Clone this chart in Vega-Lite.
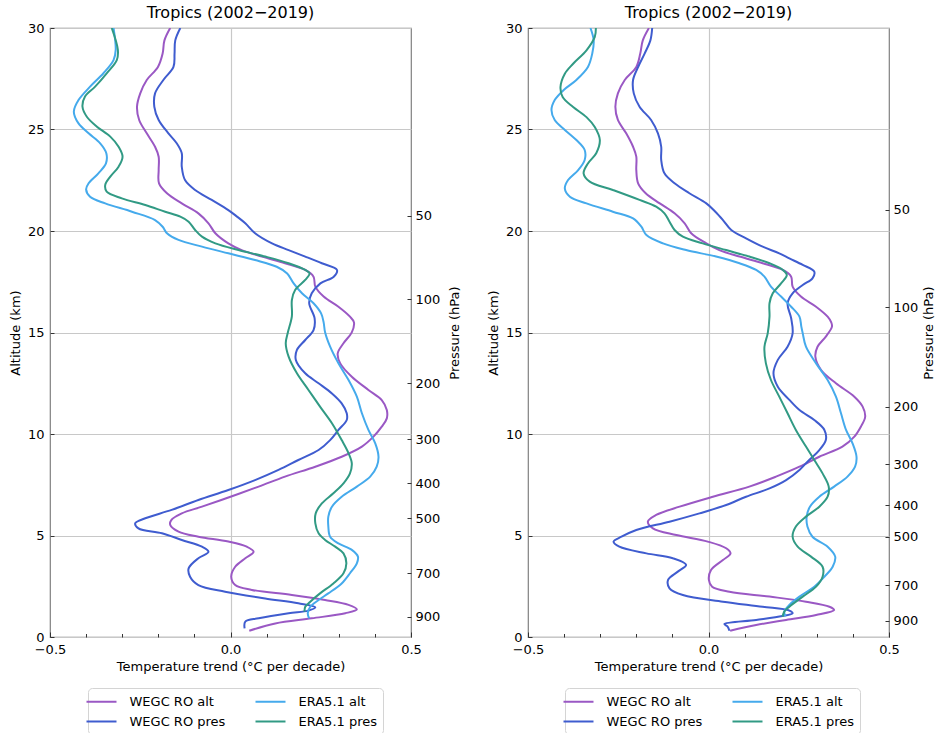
{
  "$schema": "https://vega.github.io/schema/vega-lite/v6.json",
  "background": "white",
  "padding": {"left": 8, "top": 4, "right": 5, "bottom": 5},
  "config": {
    "font": "DejaVu Sans",
    "view": {"stroke": "#808080", "strokeWidth": 1.2},
    "title": {"font": "DejaVu Sans", "fontSize": 16, "fontWeight": "normal", "color": "#000000", "offset": 1},
    "axis": {
      "labelFont": "DejaVu Sans", "labelFontSize": 13, "labelColor": "#000000",
      "titleFont": "DejaVu Sans", "titleFontSize": 13, "titleFontWeight": "normal", "titleColor": "#000000",
      "domain": false, "tickColor": "#333333", "tickWidth": 1,
      "gridColor": "#c8c8c8", "gridWidth": 1.2
    },
    "legend": {"labelFont": "DejaVu Sans", "labelFontSize": 13, "labelColor": "#000000"}
  },
  "datasets": {
    "left": [
      {"series": "WEGC RO alt", "altitude": 30.0, "trend": -0.167},
      {"series": "WEGC RO alt", "altitude": 29.39, "trend": -0.183},
      {"series": "WEGC RO alt", "altitude": 28.74, "trend": -0.188},
      {"series": "WEGC RO alt", "altitude": 28.08, "trend": -0.201},
      {"series": "WEGC RO alt", "altitude": 27.44, "trend": -0.232},
      {"series": "WEGC RO alt", "altitude": 26.78, "trend": -0.250},
      {"series": "WEGC RO alt", "altitude": 26.12, "trend": -0.259},
      {"series": "WEGC RO alt", "altitude": 25.47, "trend": -0.253},
      {"series": "WEGC RO alt", "altitude": 24.81, "trend": -0.232},
      {"series": "WEGC RO alt", "altitude": 24.15, "trend": -0.209},
      {"series": "WEGC RO alt", "altitude": 23.66, "trend": -0.199},
      {"series": "WEGC RO alt", "altitude": 23.00, "trend": -0.199},
      {"series": "WEGC RO alt", "altitude": 22.35, "trend": -0.198},
      {"series": "WEGC RO alt", "altitude": 21.86, "trend": -0.176},
      {"series": "WEGC RO alt", "altitude": 21.36, "trend": -0.135},
      {"series": "WEGC RO alt", "altitude": 20.87, "trend": -0.089},
      {"series": "WEGC RO alt", "altitude": 20.38, "trend": -0.061},
      {"series": "WEGC RO alt", "altitude": 19.89, "trend": -0.042},
      {"series": "WEGC RO alt", "altitude": 19.39, "trend": -0.006},
      {"series": "WEGC RO alt", "altitude": 19.06, "trend": 0.031},
      {"series": "WEGC RO alt", "altitude": 18.74, "trend": 0.087},
      {"series": "WEGC RO alt", "altitude": 18.41, "trend": 0.151},
      {"series": "WEGC RO alt", "altitude": 18.08, "trend": 0.207},
      {"series": "WEGC RO alt", "altitude": 17.75, "trend": 0.230},
      {"series": "WEGC RO alt", "altitude": 17.26, "trend": 0.235},
      {"series": "WEGC RO alt", "altitude": 16.77, "trend": 0.258},
      {"series": "WEGC RO alt", "altitude": 16.27, "trend": 0.299},
      {"series": "WEGC RO alt", "altitude": 15.78, "trend": 0.331},
      {"series": "WEGC RO alt", "altitude": 15.5, "trend": 0.342},
      {"series": "WEGC RO alt", "altitude": 15.01, "trend": 0.336},
      {"series": "WEGC RO alt", "altitude": 14.47, "trend": 0.313},
      {"series": "WEGC RO alt", "altitude": 13.97, "trend": 0.297},
      {"series": "WEGC RO alt", "altitude": 13.48, "trend": 0.304},
      {"series": "WEGC RO alt", "altitude": 12.82, "trend": 0.336},
      {"series": "WEGC RO alt", "altitude": 12.17, "trend": 0.382},
      {"series": "WEGC RO alt", "altitude": 11.67, "trend": 0.419},
      {"series": "WEGC RO alt", "altitude": 11.18, "trend": 0.433},
      {"series": "WEGC RO alt", "altitude": 10.77, "trend": 0.433},
      {"series": "WEGC RO alt", "altitude": 10.36, "trend": 0.419},
      {"series": "WEGC RO alt", "altitude": 9.87, "trend": 0.396},
      {"series": "WEGC RO alt", "altitude": 9.38, "trend": 0.364},
      {"series": "WEGC RO alt", "altitude": 8.88, "trend": 0.308},
      {"series": "WEGC RO alt", "altitude": 8.39, "trend": 0.235},
      {"series": "WEGC RO alt", "altitude": 7.90, "trend": 0.151},
      {"series": "WEGC RO alt", "altitude": 7.41, "trend": 0.078},
      {"series": "WEGC RO alt", "altitude": 6.91, "trend": 0.000},
      {"series": "WEGC RO alt", "altitude": 6.42, "trend": -0.079},
      {"series": "WEGC RO alt", "altitude": 6.09, "trend": -0.135},
      {"series": "WEGC RO alt", "altitude": 5.76, "trend": -0.164},
      {"series": "WEGC RO alt", "altitude": 5.52, "trend": -0.167},
      {"series": "WEGC RO alt", "altitude": 5.19, "trend": -0.144},
      {"series": "WEGC RO alt", "altitude": 4.94, "trend": -0.089},
      {"series": "WEGC RO alt", "altitude": 4.70, "trend": -0.006},
      {"series": "WEGC RO alt", "altitude": 4.45, "trend": 0.045},
      {"series": "WEGC RO alt", "altitude": 4.20, "trend": 0.064},
      {"series": "WEGC RO alt", "altitude": 3.88, "trend": 0.041},
      {"series": "WEGC RO alt", "altitude": 3.46, "trend": 0.013},
      {"series": "WEGC RO alt", "altitude": 2.97, "trend": 0.002},
      {"series": "WEGC RO alt", "altitude": 2.56, "trend": 0.013},
      {"series": "WEGC RO alt", "altitude": 2.32, "trend": 0.059},
      {"series": "WEGC RO alt", "altitude": 2.07, "trend": 0.170},
      {"series": "WEGC RO alt", "altitude": 1.82, "trend": 0.262},
      {"series": "WEGC RO alt", "altitude": 1.58, "trend": 0.327},
      {"series": "WEGC RO alt", "altitude": 1.36, "trend": 0.350},
      {"series": "WEGC RO alt", "altitude": 1.17, "trend": 0.318},
      {"series": "WEGC RO alt", "altitude": 0.92, "trend": 0.225},
      {"series": "WEGC RO alt", "altitude": 0.67, "trend": 0.124},
      {"series": "WEGC RO alt", "altitude": 0.31, "trend": 0.052},

      {"series": "WEGC RO pres", "altitude": 30.0, "trend": -0.139},
      {"series": "WEGC RO pres", "altitude": 29.39, "trend": -0.153},
      {"series": "WEGC RO pres", "altitude": 28.74, "trend": -0.155},
      {"series": "WEGC RO pres", "altitude": 28.08, "trend": -0.158},
      {"series": "WEGC RO pres", "altitude": 27.44, "trend": -0.186},
      {"series": "WEGC RO pres", "altitude": 26.78, "trend": -0.209},
      {"series": "WEGC RO pres", "altitude": 26.12, "trend": -0.211},
      {"series": "WEGC RO pres", "altitude": 25.47, "trend": -0.199},
      {"series": "WEGC RO pres", "altitude": 24.81, "trend": -0.172},
      {"series": "WEGC RO pres", "altitude": 24.32, "trend": -0.149},
      {"series": "WEGC RO pres", "altitude": 23.83, "trend": -0.135},
      {"series": "WEGC RO pres", "altitude": 23.17, "trend": -0.135},
      {"series": "WEGC RO pres", "altitude": 22.51, "trend": -0.126},
      {"series": "WEGC RO pres", "altitude": 22.02, "trend": -0.098},
      {"series": "WEGC RO pres", "altitude": 21.53, "trend": -0.052},
      {"series": "WEGC RO pres", "altitude": 21.03, "trend": -0.006},
      {"series": "WEGC RO pres", "altitude": 20.71, "trend": 0.018},
      {"series": "WEGC RO pres", "altitude": 20.38, "trend": 0.041},
      {"series": "WEGC RO pres", "altitude": 19.89, "trend": 0.068},
      {"series": "WEGC RO pres", "altitude": 19.39, "trend": 0.115},
      {"series": "WEGC RO pres", "altitude": 19.06, "trend": 0.161},
      {"series": "WEGC RO pres", "altitude": 18.74, "trend": 0.207},
      {"series": "WEGC RO pres", "altitude": 18.41, "trend": 0.253},
      {"series": "WEGC RO pres", "altitude": 18.08, "trend": 0.295},
      {"series": "WEGC RO pres", "altitude": 17.75, "trend": 0.286},
      {"series": "WEGC RO pres", "altitude": 17.42, "trend": 0.249},
      {"series": "WEGC RO pres", "altitude": 16.93, "trend": 0.225},
      {"series": "WEGC RO pres", "altitude": 16.44, "trend": 0.218},
      {"series": "WEGC RO pres", "altitude": 15.7, "trend": 0.233},
      {"series": "WEGC RO pres", "altitude": 15.12, "trend": 0.230},
      {"series": "WEGC RO pres", "altitude": 14.63, "trend": 0.207},
      {"series": "WEGC RO pres", "altitude": 14.14, "trend": 0.184},
      {"series": "WEGC RO pres", "altitude": 13.65, "trend": 0.181},
      {"series": "WEGC RO pres", "altitude": 12.99, "trend": 0.207},
      {"series": "WEGC RO pres", "altitude": 12.50, "trend": 0.244},
      {"series": "WEGC RO pres", "altitude": 12.00, "trend": 0.281},
      {"series": "WEGC RO pres", "altitude": 11.51, "trend": 0.308},
      {"series": "WEGC RO pres", "altitude": 11.02, "trend": 0.322},
      {"series": "WEGC RO pres", "altitude": 10.69, "trend": 0.322},
      {"series": "WEGC RO pres", "altitude": 10.20, "trend": 0.299},
      {"series": "WEGC RO pres", "altitude": 9.70, "trend": 0.276},
      {"series": "WEGC RO pres", "altitude": 9.21, "trend": 0.244},
      {"series": "WEGC RO pres", "altitude": 8.72, "trend": 0.188},
      {"series": "WEGC RO pres", "altitude": 8.23, "trend": 0.133},
      {"series": "WEGC RO pres", "altitude": 7.73, "trend": 0.068},
      {"series": "WEGC RO pres", "altitude": 7.24, "trend": -0.006},
      {"series": "WEGC RO pres", "altitude": 6.75, "trend": -0.089},
      {"series": "WEGC RO pres", "altitude": 6.26, "trend": -0.163},
      {"series": "WEGC RO pres", "altitude": 5.85, "trend": -0.236},
      {"series": "WEGC RO pres", "altitude": 5.60, "trend": -0.264},
      {"series": "WEGC RO pres", "altitude": 5.35, "trend": -0.255},
      {"series": "WEGC RO pres", "altitude": 5.11, "trend": -0.190},
      {"series": "WEGC RO pres", "altitude": 4.78, "trend": -0.135},
      {"series": "WEGC RO pres", "altitude": 4.45, "trend": -0.079},
      {"series": "WEGC RO pres", "altitude": 4.20, "trend": -0.061},
      {"series": "WEGC RO pres", "altitude": 3.88, "trend": -0.089},
      {"series": "WEGC RO pres", "altitude": 3.38, "trend": -0.116},
      {"series": "WEGC RO pres", "altitude": 2.97, "trend": -0.112},
      {"series": "WEGC RO pres", "altitude": 2.56, "trend": -0.089},
      {"series": "WEGC RO pres", "altitude": 2.23, "trend": -0.015},
      {"series": "WEGC RO pres", "altitude": 1.90, "trend": 0.096},
      {"series": "WEGC RO pres", "altitude": 1.66, "trend": 0.188},
      {"series": "WEGC RO pres", "altitude": 1.46, "trend": 0.235},
      {"series": "WEGC RO pres", "altitude": 1.30, "trend": 0.216},
      {"series": "WEGC RO pres", "altitude": 1.17, "trend": 0.161},
      {"series": "WEGC RO pres", "altitude": 0.92, "trend": 0.078},
      {"series": "WEGC RO pres", "altitude": 0.76, "trend": 0.041},
      {"series": "WEGC RO pres", "altitude": 0.43, "trend": 0.039},

      {"series": "ERA5.1 alt", "altitude": 30.0, "trend": -0.324},
      {"series": "ERA5.1 alt", "altitude": 28.92, "trend": -0.318},
      {"series": "ERA5.1 alt", "altitude": 28.42, "trend": -0.324},
      {"series": "ERA5.1 alt", "altitude": 27.77, "trend": -0.352},
      {"series": "ERA5.1 alt", "altitude": 27.11, "trend": -0.389},
      {"series": "ERA5.1 alt", "altitude": 26.45, "trend": -0.421},
      {"series": "ERA5.1 alt", "altitude": 25.88, "trend": -0.434},
      {"series": "ERA5.1 alt", "altitude": 25.30, "trend": -0.421},
      {"series": "ERA5.1 alt", "altitude": 24.81, "trend": -0.393},
      {"series": "ERA5.1 alt", "altitude": 24.32, "trend": -0.361},
      {"series": "ERA5.1 alt", "altitude": 23.83, "trend": -0.344},
      {"series": "ERA5.1 alt", "altitude": 23.33, "trend": -0.345},
      {"series": "ERA5.1 alt", "altitude": 22.84, "trend": -0.366},
      {"series": "ERA5.1 alt", "altitude": 22.35, "trend": -0.393},
      {"series": "ERA5.1 alt", "altitude": 22.05, "trend": -0.400},
      {"series": "ERA5.1 alt", "altitude": 21.69, "trend": -0.389},
      {"series": "ERA5.1 alt", "altitude": 21.36, "trend": -0.347},
      {"series": "ERA5.1 alt", "altitude": 20.95, "trend": -0.273},
      {"series": "ERA5.1 alt", "altitude": 20.54, "trend": -0.209},
      {"series": "ERA5.1 alt", "altitude": 20.21, "trend": -0.188},
      {"series": "ERA5.1 alt", "altitude": 19.89, "trend": -0.176},
      {"series": "ERA5.1 alt", "altitude": 19.56, "trend": -0.144},
      {"series": "ERA5.1 alt", "altitude": 19.23, "trend": -0.079},
      {"series": "ERA5.1 alt", "altitude": 18.90, "trend": -0.006},
      {"series": "ERA5.1 alt", "altitude": 18.57, "trend": 0.068},
      {"series": "ERA5.1 alt", "altitude": 18.24, "trend": 0.128},
      {"series": "ERA5.1 alt", "altitude": 17.91, "trend": 0.157},
      {"series": "ERA5.1 alt", "altitude": 17.42, "trend": 0.175},
      {"series": "ERA5.1 alt", "altitude": 16.93, "trend": 0.198},
      {"series": "ERA5.1 alt", "altitude": 16.44, "trend": 0.230},
      {"series": "ERA5.1 alt", "altitude": 15.94, "trend": 0.251},
      {"series": "ERA5.1 alt", "altitude": 15.5, "trend": 0.258},
      {"series": "ERA5.1 alt", "altitude": 15.01, "trend": 0.262},
      {"series": "ERA5.1 alt", "altitude": 14.30, "trend": 0.276},
      {"series": "ERA5.1 alt", "altitude": 13.48, "trend": 0.299},
      {"series": "ERA5.1 alt", "altitude": 12.66, "trend": 0.327},
      {"series": "ERA5.1 alt", "altitude": 11.84, "trend": 0.350},
      {"series": "ERA5.1 alt", "altitude": 11.02, "trend": 0.364},
      {"series": "ERA5.1 alt", "altitude": 10.20, "trend": 0.382},
      {"series": "ERA5.1 alt", "altitude": 9.54, "trend": 0.401},
      {"series": "ERA5.1 alt", "altitude": 8.88, "trend": 0.410},
      {"series": "ERA5.1 alt", "altitude": 8.39, "trend": 0.405},
      {"series": "ERA5.1 alt", "altitude": 7.90, "trend": 0.387},
      {"series": "ERA5.1 alt", "altitude": 7.41, "trend": 0.350},
      {"series": "ERA5.1 alt", "altitude": 6.91, "trend": 0.308},
      {"series": "ERA5.1 alt", "altitude": 6.42, "trend": 0.281},
      {"series": "ERA5.1 alt", "altitude": 5.93, "trend": 0.271},
      {"series": "ERA5.1 alt", "altitude": 5.44, "trend": 0.271},
      {"series": "ERA5.1 alt", "altitude": 4.94, "trend": 0.276},
      {"series": "ERA5.1 alt", "altitude": 4.61, "trend": 0.299},
      {"series": "ERA5.1 alt", "altitude": 4.29, "trend": 0.336},
      {"series": "ERA5.1 alt", "altitude": 3.96, "trend": 0.353},
      {"series": "ERA5.1 alt", "altitude": 3.63, "trend": 0.350},
      {"series": "ERA5.1 alt", "altitude": 3.14, "trend": 0.331},
      {"series": "ERA5.1 alt", "altitude": 2.64, "trend": 0.308},
      {"series": "ERA5.1 alt", "altitude": 2.15, "trend": 0.271},
      {"series": "ERA5.1 alt", "altitude": 1.82, "trend": 0.244},
      {"series": "ERA5.1 alt", "altitude": 1.49, "trend": 0.221},
      {"series": "ERA5.1 alt", "altitude": 1.17, "trend": 0.214},
      {"series": "ERA5.1 alt", "altitude": 0.92, "trend": 0.218},

      {"series": "ERA5.1 pres", "altitude": 30.0, "trend": -0.329},
      {"series": "ERA5.1 pres", "altitude": 28.92, "trend": -0.312},
      {"series": "ERA5.1 pres", "altitude": 28.42, "trend": -0.315},
      {"series": "ERA5.1 pres", "altitude": 27.77, "trend": -0.343},
      {"series": "ERA5.1 pres", "altitude": 27.11, "trend": -0.375},
      {"series": "ERA5.1 pres", "altitude": 26.62, "trend": -0.403},
      {"series": "ERA5.1 pres", "altitude": 26.12, "trend": -0.410},
      {"series": "ERA5.1 pres", "altitude": 25.63, "trend": -0.398},
      {"series": "ERA5.1 pres", "altitude": 25.14, "trend": -0.370},
      {"series": "ERA5.1 pres", "altitude": 24.65, "trend": -0.333},
      {"series": "ERA5.1 pres", "altitude": 24.15, "trend": -0.310},
      {"series": "ERA5.1 pres", "altitude": 23.66, "trend": -0.299},
      {"series": "ERA5.1 pres", "altitude": 23.17, "trend": -0.310},
      {"series": "ERA5.1 pres", "altitude": 22.68, "trend": -0.333},
      {"series": "ERA5.1 pres", "altitude": 22.27, "trend": -0.347},
      {"series": "ERA5.1 pres", "altitude": 21.94, "trend": -0.343},
      {"series": "ERA5.1 pres", "altitude": 21.61, "trend": -0.301},
      {"series": "ERA5.1 pres", "altitude": 21.28, "trend": -0.236},
      {"series": "ERA5.1 pres", "altitude": 20.95, "trend": -0.181},
      {"series": "ERA5.1 pres", "altitude": 20.71, "trend": -0.139},
      {"series": "ERA5.1 pres", "altitude": 20.46, "trend": -0.116},
      {"series": "ERA5.1 pres", "altitude": 20.05, "trend": -0.098},
      {"series": "ERA5.1 pres", "altitude": 19.72, "trend": -0.079},
      {"series": "ERA5.1 pres", "altitude": 19.39, "trend": -0.042},
      {"series": "ERA5.1 pres", "altitude": 19.06, "trend": 0.022},
      {"series": "ERA5.1 pres", "altitude": 18.74, "trend": 0.096},
      {"series": "ERA5.1 pres", "altitude": 18.41, "trend": 0.161},
      {"series": "ERA5.1 pres", "altitude": 18.08, "trend": 0.207},
      {"series": "ERA5.1 pres", "altitude": 17.91, "trend": 0.219},
      {"series": "ERA5.1 pres", "altitude": 17.59, "trend": 0.207},
      {"series": "ERA5.1 pres", "altitude": 17.09, "trend": 0.179},
      {"series": "ERA5.1 pres", "altitude": 16.60, "trend": 0.170},
      {"series": "ERA5.1 pres", "altitude": 15.8, "trend": 0.170},
      {"series": "ERA5.1 pres", "altitude": 15.01, "trend": 0.159},
      {"series": "ERA5.1 pres", "altitude": 14.47, "trend": 0.153},
      {"series": "ERA5.1 pres", "altitude": 13.81, "trend": 0.161},
      {"series": "ERA5.1 pres", "altitude": 12.99, "trend": 0.184},
      {"series": "ERA5.1 pres", "altitude": 12.17, "trend": 0.216},
      {"series": "ERA5.1 pres", "altitude": 11.35, "trend": 0.248},
      {"series": "ERA5.1 pres", "altitude": 10.53, "trend": 0.281},
      {"series": "ERA5.1 pres", "altitude": 9.70, "trend": 0.308},
      {"series": "ERA5.1 pres", "altitude": 9.05, "trend": 0.327},
      {"series": "ERA5.1 pres", "altitude": 8.55, "trend": 0.336},
      {"series": "ERA5.1 pres", "altitude": 8.06, "trend": 0.331},
      {"series": "ERA5.1 pres", "altitude": 7.57, "trend": 0.313},
      {"series": "ERA5.1 pres", "altitude": 7.08, "trend": 0.285},
      {"series": "ERA5.1 pres", "altitude": 6.58, "trend": 0.253},
      {"series": "ERA5.1 pres", "altitude": 6.09, "trend": 0.236},
      {"series": "ERA5.1 pres", "altitude": 5.60, "trend": 0.235},
      {"series": "ERA5.1 pres", "altitude": 5.11, "trend": 0.244},
      {"series": "ERA5.1 pres", "altitude": 4.78, "trend": 0.262},
      {"series": "ERA5.1 pres", "altitude": 4.45, "trend": 0.290},
      {"series": "ERA5.1 pres", "altitude": 4.12, "trend": 0.313},
      {"series": "ERA5.1 pres", "altitude": 3.63, "trend": 0.321},
      {"series": "ERA5.1 pres", "altitude": 3.14, "trend": 0.313},
      {"series": "ERA5.1 pres", "altitude": 2.64, "trend": 0.285},
      {"series": "ERA5.1 pres", "altitude": 2.15, "trend": 0.248},
      {"series": "ERA5.1 pres", "altitude": 1.74, "trend": 0.221},
      {"series": "ERA5.1 pres", "altitude": 1.49, "trend": 0.207},
      {"series": "ERA5.1 pres", "altitude": 1.25, "trend": 0.205}
    ],
    "right": [
      {"series": "WEGC RO alt", "altitude": 30.0, "trend": -0.165},
      {"series": "WEGC RO alt", "altitude": 29.39, "trend": -0.182},
      {"series": "WEGC RO alt", "altitude": 28.74, "trend": -0.189},
      {"series": "WEGC RO alt", "altitude": 28.08, "trend": -0.200},
      {"series": "WEGC RO alt", "altitude": 27.44, "trend": -0.232},
      {"series": "WEGC RO alt", "altitude": 26.78, "trend": -0.251},
      {"series": "WEGC RO alt", "altitude": 26.12, "trend": -0.258},
      {"series": "WEGC RO alt", "altitude": 25.47, "trend": -0.251},
      {"series": "WEGC RO alt", "altitude": 24.81, "trend": -0.228},
      {"series": "WEGC RO alt", "altitude": 24.15, "trend": -0.209},
      {"series": "WEGC RO alt", "altitude": 23.66, "trend": -0.200},
      {"series": "WEGC RO alt", "altitude": 23.00, "trend": -0.200},
      {"series": "WEGC RO alt", "altitude": 22.35, "trend": -0.195},
      {"series": "WEGC RO alt", "altitude": 21.86, "trend": -0.174},
      {"series": "WEGC RO alt", "altitude": 21.36, "trend": -0.135},
      {"series": "WEGC RO alt", "altitude": 20.87, "trend": -0.094},
      {"series": "WEGC RO alt", "altitude": 20.38, "trend": -0.066},
      {"series": "WEGC RO alt", "altitude": 19.89, "trend": -0.048},
      {"series": "WEGC RO alt", "altitude": 19.39, "trend": -0.006},
      {"series": "WEGC RO alt", "altitude": 19.06, "trend": 0.030},
      {"series": "WEGC RO alt", "altitude": 18.74, "trend": 0.086},
      {"series": "WEGC RO alt", "altitude": 18.41, "trend": 0.150},
      {"series": "WEGC RO alt", "altitude": 18.08, "trend": 0.206},
      {"series": "WEGC RO alt", "altitude": 17.75, "trend": 0.229},
      {"series": "WEGC RO alt", "altitude": 17.26, "trend": 0.233},
      {"series": "WEGC RO alt", "altitude": 16.77, "trend": 0.256},
      {"series": "WEGC RO alt", "altitude": 16.27, "trend": 0.298},
      {"series": "WEGC RO alt", "altitude": 15.78, "trend": 0.330},
      {"series": "WEGC RO alt", "altitude": 15.5, "trend": 0.340},
      {"series": "WEGC RO alt", "altitude": 15.29, "trend": 0.342},
      {"series": "WEGC RO alt", "altitude": 14.80, "trend": 0.325},
      {"series": "WEGC RO alt", "altitude": 14.30, "trend": 0.302},
      {"series": "WEGC RO alt", "altitude": 13.81, "trend": 0.296},
      {"series": "WEGC RO alt", "altitude": 13.15, "trend": 0.312},
      {"series": "WEGC RO alt", "altitude": 12.50, "trend": 0.353},
      {"series": "WEGC RO alt", "altitude": 11.84, "trend": 0.404},
      {"series": "WEGC RO alt", "altitude": 11.35, "trend": 0.427},
      {"series": "WEGC RO alt", "altitude": 10.85, "trend": 0.434},
      {"series": "WEGC RO alt", "altitude": 10.36, "trend": 0.422},
      {"series": "WEGC RO alt", "altitude": 9.87, "trend": 0.404},
      {"series": "WEGC RO alt", "altitude": 9.38, "trend": 0.371},
      {"series": "WEGC RO alt", "altitude": 8.88, "trend": 0.307},
      {"series": "WEGC RO alt", "altitude": 8.39, "trend": 0.252},
      {"series": "WEGC RO alt", "altitude": 7.90, "trend": 0.187},
      {"series": "WEGC RO alt", "altitude": 7.41, "trend": 0.113},
      {"series": "WEGC RO alt", "altitude": 6.91, "trend": 0.012},
      {"series": "WEGC RO alt", "altitude": 6.42, "trend": -0.080},
      {"series": "WEGC RO alt", "altitude": 6.01, "trend": -0.145},
      {"series": "WEGC RO alt", "altitude": 5.68, "trend": -0.168},
      {"series": "WEGC RO alt", "altitude": 5.35, "trend": -0.154},
      {"series": "WEGC RO alt", "altitude": 5.02, "trend": -0.089},
      {"series": "WEGC RO alt", "altitude": 4.70, "trend": -0.002},
      {"series": "WEGC RO alt", "altitude": 4.37, "trend": 0.049},
      {"series": "WEGC RO alt", "altitude": 4.12, "trend": 0.061},
      {"series": "WEGC RO alt", "altitude": 3.79, "trend": 0.040},
      {"series": "WEGC RO alt", "altitude": 3.30, "trend": 0.007},
      {"series": "WEGC RO alt", "altitude": 2.81, "trend": 0.001},
      {"series": "WEGC RO alt", "altitude": 2.48, "trend": 0.010},
      {"series": "WEGC RO alt", "altitude": 2.23, "trend": 0.058},
      {"series": "WEGC RO alt", "altitude": 1.99, "trend": 0.169},
      {"series": "WEGC RO alt", "altitude": 1.74, "trend": 0.270},
      {"series": "WEGC RO alt", "altitude": 1.49, "trend": 0.335},
      {"series": "WEGC RO alt", "altitude": 1.33, "trend": 0.348},
      {"series": "WEGC RO alt", "altitude": 1.08, "trend": 0.298},
      {"series": "WEGC RO alt", "altitude": 0.84, "trend": 0.215},
      {"series": "WEGC RO alt", "altitude": 0.59, "trend": 0.132},
      {"series": "WEGC RO alt", "altitude": 0.31, "trend": 0.060},

      {"series": "WEGC RO pres", "altitude": 30.0, "trend": -0.156},
      {"series": "WEGC RO pres", "altitude": 29.39, "trend": -0.161},
      {"series": "WEGC RO pres", "altitude": 28.74, "trend": -0.177},
      {"series": "WEGC RO pres", "altitude": 28.08, "trend": -0.195},
      {"series": "WEGC RO pres", "altitude": 27.44, "trend": -0.209},
      {"series": "WEGC RO pres", "altitude": 26.78, "trend": -0.207},
      {"series": "WEGC RO pres", "altitude": 26.12, "trend": -0.191},
      {"series": "WEGC RO pres", "altitude": 25.47, "trend": -0.159},
      {"series": "WEGC RO pres", "altitude": 24.81, "trend": -0.140},
      {"series": "WEGC RO pres", "altitude": 24.15, "trend": -0.131},
      {"series": "WEGC RO pres", "altitude": 23.50, "trend": -0.131},
      {"series": "WEGC RO pres", "altitude": 22.84, "trend": -0.122},
      {"series": "WEGC RO pres", "altitude": 22.35, "trend": -0.094},
      {"series": "WEGC RO pres", "altitude": 21.86, "trend": -0.053},
      {"series": "WEGC RO pres", "altitude": 21.36, "trend": -0.006},
      {"series": "WEGC RO pres", "altitude": 20.95, "trend": 0.019},
      {"series": "WEGC RO pres", "altitude": 20.54, "trend": 0.040},
      {"series": "WEGC RO pres", "altitude": 20.05, "trend": 0.063},
      {"series": "WEGC RO pres", "altitude": 19.64, "trend": 0.104},
      {"series": "WEGC RO pres", "altitude": 19.23, "trend": 0.150},
      {"series": "WEGC RO pres", "altitude": 18.90, "trend": 0.196},
      {"series": "WEGC RO pres", "altitude": 18.65, "trend": 0.224},
      {"series": "WEGC RO pres", "altitude": 18.33, "trend": 0.261},
      {"series": "WEGC RO pres", "altitude": 18.00, "trend": 0.293},
      {"series": "WEGC RO pres", "altitude": 17.67, "trend": 0.288},
      {"series": "WEGC RO pres", "altitude": 17.34, "trend": 0.261},
      {"series": "WEGC RO pres", "altitude": 16.93, "trend": 0.233},
      {"series": "WEGC RO pres", "altitude": 16.44, "trend": 0.219},
      {"series": "WEGC RO pres", "altitude": 15.7, "trend": 0.229},
      {"series": "WEGC RO pres", "altitude": 14.96, "trend": 0.233},
      {"series": "WEGC RO pres", "altitude": 14.30, "trend": 0.219},
      {"series": "WEGC RO pres", "altitude": 13.65, "trend": 0.192},
      {"series": "WEGC RO pres", "altitude": 12.99, "trend": 0.180},
      {"series": "WEGC RO pres", "altitude": 12.33, "trend": 0.192},
      {"series": "WEGC RO pres", "altitude": 11.68, "trend": 0.224},
      {"series": "WEGC RO pres", "altitude": 11.18, "trend": 0.252},
      {"series": "WEGC RO pres", "altitude": 10.69, "trend": 0.293},
      {"series": "WEGC RO pres", "altitude": 10.20, "trend": 0.321},
      {"series": "WEGC RO pres", "altitude": 9.70, "trend": 0.325},
      {"series": "WEGC RO pres", "altitude": 9.21, "trend": 0.307},
      {"series": "WEGC RO pres", "altitude": 8.72, "trend": 0.279},
      {"series": "WEGC RO pres", "altitude": 8.23, "trend": 0.252},
      {"series": "WEGC RO pres", "altitude": 7.73, "trend": 0.215},
      {"series": "WEGC RO pres", "altitude": 7.32, "trend": 0.169},
      {"series": "WEGC RO pres", "altitude": 6.91, "trend": 0.104},
      {"series": "WEGC RO pres", "altitude": 6.50, "trend": 0.049},
      {"series": "WEGC RO pres", "altitude": 6.09, "trend": -0.025},
      {"series": "WEGC RO pres", "altitude": 5.68, "trend": -0.108},
      {"series": "WEGC RO pres", "altitude": 5.27, "trend": -0.200},
      {"series": "WEGC RO pres", "altitude": 4.94, "trend": -0.241},
      {"series": "WEGC RO pres", "altitude": 4.70, "trend": -0.263},
      {"series": "WEGC RO pres", "altitude": 4.45, "trend": -0.247},
      {"series": "WEGC RO pres", "altitude": 4.12, "trend": -0.172},
      {"series": "WEGC RO pres", "altitude": 3.88, "trend": -0.099},
      {"series": "WEGC RO pres", "altitude": 3.55, "trend": -0.062},
      {"series": "WEGC RO pres", "altitude": 3.22, "trend": -0.085},
      {"series": "WEGC RO pres", "altitude": 2.81, "trend": -0.112},
      {"series": "WEGC RO pres", "altitude": 2.40, "trend": -0.108},
      {"series": "WEGC RO pres", "altitude": 2.07, "trend": -0.071},
      {"series": "WEGC RO pres", "altitude": 1.74, "trend": 0.040},
      {"series": "WEGC RO pres", "altitude": 1.49, "trend": 0.150},
      {"series": "WEGC RO pres", "altitude": 1.30, "trend": 0.224},
      {"series": "WEGC RO pres", "altitude": 1.17, "trend": 0.233},
      {"series": "WEGC RO pres", "altitude": 1.03, "trend": 0.205},
      {"series": "WEGC RO pres", "altitude": 0.84, "trend": 0.132},
      {"series": "WEGC RO pres", "altitude": 0.64, "trend": 0.044},
      {"series": "WEGC RO pres", "altitude": 0.51, "trend": 0.053},
      {"series": "WEGC RO pres", "altitude": 0.31, "trend": 0.058},

      {"series": "ERA5.1 alt", "altitude": 30.0, "trend": -0.327},
      {"series": "ERA5.1 alt", "altitude": 29.39, "trend": -0.318},
      {"series": "ERA5.1 alt", "altitude": 28.74, "trend": -0.322},
      {"series": "ERA5.1 alt", "altitude": 28.08, "trend": -0.334},
      {"series": "ERA5.1 alt", "altitude": 27.44, "trend": -0.366},
      {"series": "ERA5.1 alt", "altitude": 26.95, "trend": -0.401},
      {"series": "ERA5.1 alt", "altitude": 26.45, "trend": -0.426},
      {"series": "ERA5.1 alt", "altitude": 25.96, "trend": -0.435},
      {"series": "ERA5.1 alt", "altitude": 25.47, "trend": -0.426},
      {"series": "ERA5.1 alt", "altitude": 24.98, "trend": -0.398},
      {"series": "ERA5.1 alt", "altitude": 24.48, "trend": -0.366},
      {"series": "ERA5.1 alt", "altitude": 23.99, "trend": -0.343},
      {"series": "ERA5.1 alt", "altitude": 23.50, "trend": -0.343},
      {"series": "ERA5.1 alt", "altitude": 23.00, "trend": -0.361},
      {"series": "ERA5.1 alt", "altitude": 22.51, "trend": -0.389},
      {"series": "ERA5.1 alt", "altitude": 22.10, "trend": -0.398},
      {"series": "ERA5.1 alt", "altitude": 21.69, "trend": -0.384},
      {"series": "ERA5.1 alt", "altitude": 21.36, "trend": -0.338},
      {"series": "ERA5.1 alt", "altitude": 20.95, "trend": -0.265},
      {"series": "ERA5.1 alt", "altitude": 20.62, "trend": -0.209},
      {"series": "ERA5.1 alt", "altitude": 20.21, "trend": -0.186},
      {"series": "ERA5.1 alt", "altitude": 19.80, "trend": -0.172},
      {"series": "ERA5.1 alt", "altitude": 19.39, "trend": -0.126},
      {"series": "ERA5.1 alt", "altitude": 19.06, "trend": -0.062},
      {"series": "ERA5.1 alt", "altitude": 18.74, "trend": 0.021},
      {"series": "ERA5.1 alt", "altitude": 18.41, "trend": 0.086},
      {"series": "ERA5.1 alt", "altitude": 18.08, "trend": 0.132},
      {"series": "ERA5.1 alt", "altitude": 17.75, "trend": 0.155},
      {"series": "ERA5.1 alt", "altitude": 17.26, "trend": 0.173},
      {"series": "ERA5.1 alt", "altitude": 16.77, "trend": 0.201},
      {"series": "ERA5.1 alt", "altitude": 16.27, "trend": 0.229},
      {"series": "ERA5.1 alt", "altitude": 15.78, "trend": 0.252},
      {"series": "ERA5.1 alt", "altitude": 15.30, "trend": 0.257},
      {"series": "ERA5.1 alt", "altitude": 14.96, "trend": 0.261},
      {"series": "ERA5.1 alt", "altitude": 14.30, "trend": 0.270},
      {"series": "ERA5.1 alt", "altitude": 13.48, "trend": 0.298},
      {"series": "ERA5.1 alt", "altitude": 12.66, "trend": 0.330},
      {"series": "ERA5.1 alt", "altitude": 11.84, "trend": 0.353},
      {"series": "ERA5.1 alt", "altitude": 11.02, "trend": 0.367},
      {"series": "ERA5.1 alt", "altitude": 10.20, "trend": 0.381},
      {"series": "ERA5.1 alt", "altitude": 9.54, "trend": 0.399},
      {"series": "ERA5.1 alt", "altitude": 8.88, "trend": 0.410},
      {"series": "ERA5.1 alt", "altitude": 8.39, "trend": 0.406},
      {"series": "ERA5.1 alt", "altitude": 7.90, "trend": 0.385},
      {"series": "ERA5.1 alt", "altitude": 7.41, "trend": 0.348},
      {"series": "ERA5.1 alt", "altitude": 6.91, "trend": 0.307},
      {"series": "ERA5.1 alt", "altitude": 6.42, "trend": 0.281},
      {"series": "ERA5.1 alt", "altitude": 5.93, "trend": 0.272},
      {"series": "ERA5.1 alt", "altitude": 5.44, "trend": 0.274},
      {"series": "ERA5.1 alt", "altitude": 4.94, "trend": 0.288},
      {"series": "ERA5.1 alt", "altitude": 4.45, "trend": 0.330},
      {"series": "ERA5.1 alt", "altitude": 3.96, "trend": 0.351},
      {"series": "ERA5.1 alt", "altitude": 3.46, "trend": 0.344},
      {"series": "ERA5.1 alt", "altitude": 2.97, "trend": 0.321},
      {"series": "ERA5.1 alt", "altitude": 2.48, "trend": 0.293},
      {"series": "ERA5.1 alt", "altitude": 1.99, "trend": 0.252},
      {"series": "ERA5.1 alt", "altitude": 1.58, "trend": 0.224},
      {"series": "ERA5.1 alt", "altitude": 1.25, "trend": 0.210},
      {"series": "ERA5.1 alt", "altitude": 1.03, "trend": 0.213},

      {"series": "ERA5.1 pres", "altitude": 30.0, "trend": -0.312},
      {"series": "ERA5.1 pres", "altitude": 29.56, "trend": -0.315},
      {"series": "ERA5.1 pres", "altitude": 28.90, "trend": -0.338},
      {"series": "ERA5.1 pres", "altitude": 28.24, "trend": -0.375},
      {"series": "ERA5.1 pres", "altitude": 27.75, "trend": -0.398},
      {"series": "ERA5.1 pres", "altitude": 27.09, "trend": -0.410},
      {"series": "ERA5.1 pres", "altitude": 26.60, "trend": -0.404},
      {"series": "ERA5.1 pres", "altitude": 26.11, "trend": -0.375},
      {"series": "ERA5.1 pres", "altitude": 25.61, "trend": -0.338},
      {"series": "ERA5.1 pres", "altitude": 25.12, "trend": -0.315},
      {"series": "ERA5.1 pres", "altitude": 24.48, "trend": -0.301},
      {"series": "ERA5.1 pres", "altitude": 23.83, "trend": -0.311},
      {"series": "ERA5.1 pres", "altitude": 23.33, "trend": -0.334},
      {"series": "ERA5.1 pres", "altitude": 22.84, "trend": -0.346},
      {"series": "ERA5.1 pres", "altitude": 22.43, "trend": -0.329},
      {"series": "ERA5.1 pres", "altitude": 22.02, "trend": -0.265},
      {"series": "ERA5.1 pres", "altitude": 21.53, "trend": -0.191},
      {"series": "ERA5.1 pres", "altitude": 21.20, "trend": -0.145},
      {"series": "ERA5.1 pres", "altitude": 20.87, "trend": -0.122},
      {"series": "ERA5.1 pres", "altitude": 20.46, "trend": -0.108},
      {"series": "ERA5.1 pres", "altitude": 20.05, "trend": -0.094},
      {"series": "ERA5.1 pres", "altitude": 19.72, "trend": -0.071},
      {"series": "ERA5.1 pres", "altitude": 19.39, "trend": -0.016},
      {"series": "ERA5.1 pres", "altitude": 19.06, "trend": 0.049},
      {"series": "ERA5.1 pres", "altitude": 18.74, "trend": 0.113},
      {"series": "ERA5.1 pres", "altitude": 18.41, "trend": 0.169},
      {"series": "ERA5.1 pres", "altitude": 18.08, "trend": 0.206},
      {"series": "ERA5.1 pres", "altitude": 17.83, "trend": 0.217},
      {"series": "ERA5.1 pres", "altitude": 17.42, "trend": 0.201},
      {"series": "ERA5.1 pres", "altitude": 16.93, "trend": 0.178},
      {"series": "ERA5.1 pres", "altitude": 16.44, "trend": 0.169},
      {"series": "ERA5.1 pres", "altitude": 15.78, "trend": 0.169},
      {"series": "ERA5.1 pres", "altitude": 14.96, "trend": 0.164},
      {"series": "ERA5.1 pres", "altitude": 14.30, "trend": 0.155},
      {"series": "ERA5.1 pres", "altitude": 13.48, "trend": 0.159},
      {"series": "ERA5.1 pres", "altitude": 12.66, "trend": 0.173},
      {"series": "ERA5.1 pres", "altitude": 11.84, "trend": 0.196},
      {"series": "ERA5.1 pres", "altitude": 11.02, "trend": 0.219},
      {"series": "ERA5.1 pres", "altitude": 10.20, "trend": 0.242},
      {"series": "ERA5.1 pres", "altitude": 9.38, "trend": 0.270},
      {"series": "ERA5.1 pres", "altitude": 8.72, "trend": 0.293},
      {"series": "ERA5.1 pres", "altitude": 8.06, "trend": 0.316},
      {"series": "ERA5.1 pres", "altitude": 7.41, "trend": 0.333},
      {"series": "ERA5.1 pres", "altitude": 6.91, "trend": 0.330},
      {"series": "ERA5.1 pres", "altitude": 6.42, "trend": 0.307},
      {"series": "ERA5.1 pres", "altitude": 5.93, "trend": 0.270},
      {"series": "ERA5.1 pres", "altitude": 5.44, "trend": 0.242},
      {"series": "ERA5.1 pres", "altitude": 4.94, "trend": 0.233},
      {"series": "ERA5.1 pres", "altitude": 4.45, "trend": 0.247},
      {"series": "ERA5.1 pres", "altitude": 3.96, "trend": 0.284},
      {"series": "ERA5.1 pres", "altitude": 3.46, "trend": 0.316},
      {"series": "ERA5.1 pres", "altitude": 2.97, "trend": 0.316},
      {"series": "ERA5.1 pres", "altitude": 2.48, "trend": 0.298},
      {"series": "ERA5.1 pres", "altitude": 1.99, "trend": 0.261},
      {"series": "ERA5.1 pres", "altitude": 1.49, "trend": 0.224},
      {"series": "ERA5.1 pres", "altitude": 1.25, "trend": 0.210},
      {"series": "ERA5.1 pres", "altitude": 1.00, "trend": 0.205}
    ]
  },
  "spacing": 23,
  "resolve": {"scale": {"color": "independent"}},
  "hconcat": [
    {
      "width": 361,
      "height": 609,
      "title": {"text": "Tropics (2002−2019)"},
      "data": {"name": "left"},
      "encoding": {
        "x": {
          "field": "trend", "type": "quantitative",
          "scale": {"domain": [-0.5, 0.5], "nice": false, "zero": false},
          "axis": {
            "title": "Temperature trend (°C per decade)",
            "values": [-0.5, -0.4, -0.3, -0.2, -0.1, 0, 0.1, 0.2, 0.3, 0.4, 0.5],
            "format": ".1f",
            "labelExpr": "(abs(datum.value) < 0.01 || abs(abs(datum.value) - 0.5) < 0.01) ? datum.label : ''",
            "tickSize": {"condition": {"test": "abs(datum.value) < 0.01 || abs(abs(datum.value) - 0.5) < 0.01", "value": -5}, "value": -3.5},
            "grid": true,
            "gridOpacity": {"condition": {"test": "abs(datum.value) < 0.01", "value": 1}, "value": 0},
            "labelPadding": 11,
            "labelFlush": false,
            "titlePadding": 4
          }
        },
        "color": {
          "field": "series", "type": "nominal",
          "scale": {
            "domain": ["WEGC RO alt", "WEGC RO pres", "ERA5.1 alt", "ERA5.1 pres"],
            "range": ["#9a58c4", "#3f5ccf", "#45aaec", "#319a84"]
          },
          "legend": {
            "orient": "none", "legendX": 38, "legendY": 660,
            "title": null, "columns": 2,
            "symbolType": "M-2,0H2", "symbolSize": 225, "symbolStrokeWidth": 2,
            "labelOffset": 19.5, "columnPadding": 25, "rowPadding": 4,
            "padding": 5, "strokeColor": "#d4d4d4", "cornerRadius": 4, "fillColor": "white"
          }
        },
        "order": {"field": "altitude", "type": "quantitative"}
      },
      "layer": [
        {
          "transform": [{"filter": "indexof(datum.series, 'WEGC') === 0"}],
          "mark": {"type": "line", "interpolate": "catmull-rom", "strokeWidth": 2, "clip": true},
          "encoding": {
            "y": {
              "field": "altitude", "type": "quantitative",
              "scale": {"domain": [0, 30], "nice": false, "zero": false},
              "axis": {
                "title": "Altitude (km)",
                "values": [0, 5, 10, 15, 20, 25, 30],
                "tickSize": -4,
                "grid": true,
                "labelPadding": 10,
                "titlePadding": 5
              }
            }
          }
        },
        {
          "transform": [{"filter": "indexof(datum.series, 'ERA') === 0"}],
          "mark": {"type": "line", "interpolate": "catmull-rom", "strokeWidth": 2, "clip": true},
          "encoding": {
            "y": {
              "field": "altitude", "type": "quantitative",
              "scale": {"domain": [0, 30], "nice": false, "zero": false},
              "axis": {
                "orient": "right",
                "title": "Pressure (hPa)",
                "titleAngle": 270,
                "titleBaseline": "top",
                "values": [20.74, 16.65, 12.5, 9.74, 7.57, 5.85, 3.14, 1.0],
                "labelExpr": "datum.value > 19 ? '50' : datum.value > 14 ? '100' : datum.value > 11 ? '200' : datum.value > 8.5 ? '300' : datum.value > 6.6 ? '400' : datum.value > 4.5 ? '500' : datum.value > 2 ? '700' : '900'",
                "tickSize": -4,
                "grid": false,
                "labelPadding": 8,
                "titlePadding": 9
              }
            }
          }
        }
      ],
      "resolve": {"axis": {"y": "independent"}}
    },
    {
      "width": 361,
      "height": 609,
      "title": {"text": "Tropics (2002−2019)"},
      "data": {"name": "right"},
      "encoding": {
        "x": {
          "field": "trend", "type": "quantitative",
          "scale": {"domain": [-0.5, 0.5], "nice": false, "zero": false},
          "axis": {
            "title": "Temperature trend (°C per decade)",
            "values": [-0.5, -0.4, -0.3, -0.2, -0.1, 0, 0.1, 0.2, 0.3, 0.4, 0.5],
            "format": ".1f",
            "labelExpr": "(abs(datum.value) < 0.01 || abs(abs(datum.value) - 0.5) < 0.01) ? datum.label : ''",
            "tickSize": {"condition": {"test": "abs(datum.value) < 0.01 || abs(abs(datum.value) - 0.5) < 0.01", "value": -5}, "value": -3.5},
            "grid": true,
            "gridOpacity": {"condition": {"test": "abs(datum.value) < 0.01", "value": 1}, "value": 0},
            "labelPadding": 11,
            "labelFlush": false,
            "titlePadding": 4
          }
        },
        "color": {
          "field": "series", "type": "nominal",
          "scale": {
            "domain": ["WEGC RO alt", "WEGC RO pres", "ERA5.1 alt", "ERA5.1 pres"],
            "range": ["#9a58c4", "#3f5ccf", "#45aaec", "#319a84"]
          },
          "legend": {
            "orient": "none", "legendX": 37, "legendY": 660,
            "title": null, "columns": 2,
            "symbolType": "M-2,0H2", "symbolSize": 225, "symbolStrokeWidth": 2,
            "labelOffset": 19.5, "columnPadding": 25, "rowPadding": 4,
            "padding": 5, "strokeColor": "#d4d4d4", "cornerRadius": 4, "fillColor": "white"
          }
        },
        "order": {"field": "altitude", "type": "quantitative"}
      },
      "layer": [
        {
          "transform": [{"filter": "indexof(datum.series, 'WEGC') === 0"}],
          "mark": {"type": "line", "interpolate": "catmull-rom", "strokeWidth": 2, "clip": true},
          "encoding": {
            "y": {
              "field": "altitude", "type": "quantitative",
              "scale": {"domain": [0, 30], "nice": false, "zero": false},
              "axis": {
                "title": "Altitude (km)",
                "values": [0, 5, 10, 15, 20, 25, 30],
                "tickSize": -4,
                "grid": true,
                "labelPadding": 10,
                "titlePadding": 5
              }
            }
          }
        },
        {
          "transform": [{"filter": "indexof(datum.series, 'ERA') === 0"}],
          "mark": {"type": "line", "interpolate": "catmull-rom", "strokeWidth": 2, "clip": true},
          "encoding": {
            "y": {
              "field": "altitude", "type": "quantitative",
              "scale": {"domain": [0, 30], "nice": false, "zero": false},
              "axis": {
                "orient": "right",
                "title": "Pressure (hPa)",
                "titleAngle": 270,
                "titleBaseline": "top",
                "values": [21.05, 16.24, 11.35, 8.5, 6.5, 4.93, 2.56, 0.8],
                "labelExpr": "datum.value > 19 ? '50' : datum.value > 14 ? '100' : datum.value > 10 ? '200' : datum.value > 7.5 ? '300' : datum.value > 5.7 ? '400' : datum.value > 3.7 ? '500' : datum.value > 1.7 ? '700' : '900'",
                "tickSize": -4,
                "grid": false,
                "labelPadding": 8,
                "titlePadding": 5
              }
            }
          }
        }
      ],
      "resolve": {"axis": {"y": "independent"}}
    }
  ]
}
